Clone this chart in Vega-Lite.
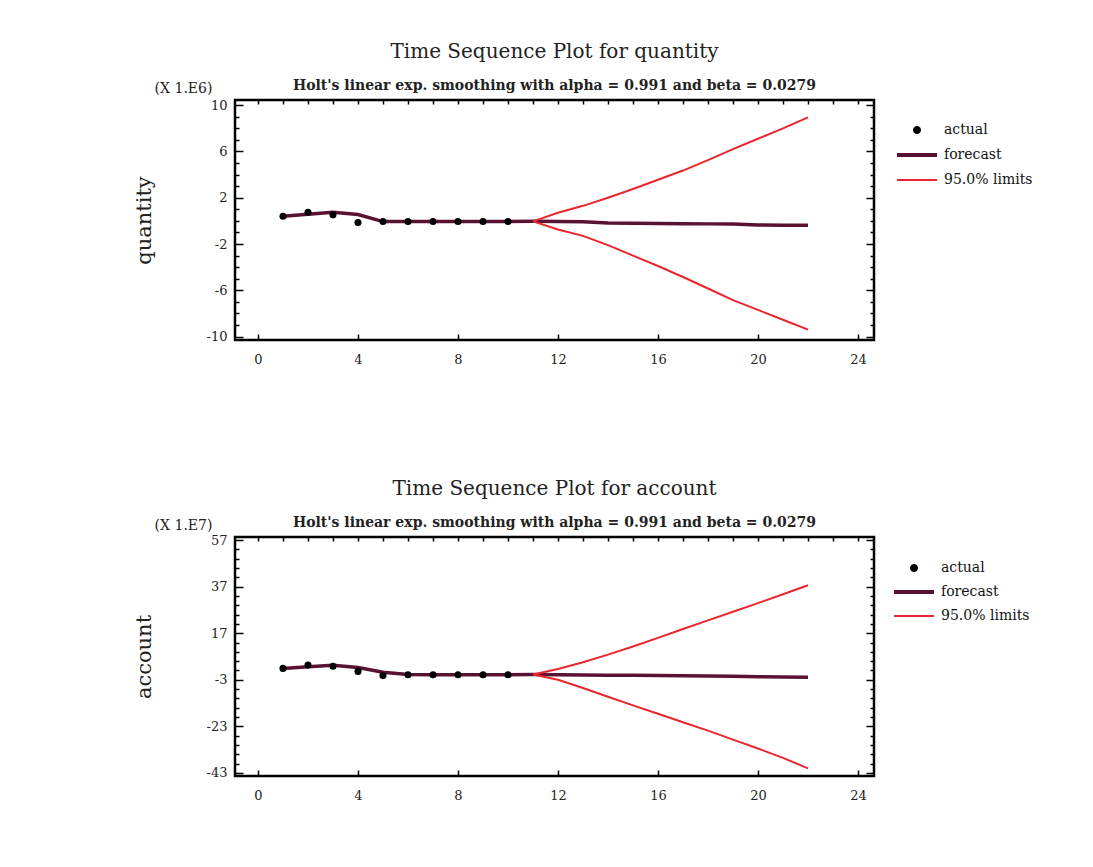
{
  "$schema": "https://vega.github.io/schema/vega-lite/v6.json",
  "background": "white",
  "padding": {"left": 131, "top": 40, "right": 10, "bottom": 10},
  "spacing": 109,
  "datasets": {
    "quantity": [
      {"t": 1, "v": 0.4, "s": "actual", "p": "a"},
      {"t": 2, "v": 0.75, "s": "actual", "p": "a"},
      {"t": 3, "v": 0.52, "s": "actual", "p": "a"},
      {"t": 4, "v": -0.15, "s": "actual", "p": "a"},
      {"t": 5, "v": -0.06, "s": "actual", "p": "a"},
      {"t": 6, "v": -0.06, "s": "actual", "p": "a"},
      {"t": 7, "v": -0.06, "s": "actual", "p": "a"},
      {"t": 8, "v": -0.06, "s": "actual", "p": "a"},
      {"t": 9, "v": -0.06, "s": "actual", "p": "a"},
      {"t": 10, "v": -0.06, "s": "actual", "p": "a"},
      {"t": 1, "v": 0.4, "s": "forecast", "p": "f"},
      {"t": 2, "v": 0.58, "s": "forecast", "p": "f"},
      {"t": 3, "v": 0.75, "s": "forecast", "p": "f"},
      {"t": 4, "v": 0.55, "s": "forecast", "p": "f"},
      {"t": 5, "v": -0.06, "s": "forecast", "p": "f"},
      {"t": 6, "v": -0.06, "s": "forecast", "p": "f"},
      {"t": 7, "v": -0.06, "s": "forecast", "p": "f"},
      {"t": 8, "v": -0.06, "s": "forecast", "p": "f"},
      {"t": 9, "v": -0.06, "s": "forecast", "p": "f"},
      {"t": 10, "v": -0.06, "s": "forecast", "p": "f"},
      {"t": 11, "v": -0.04, "s": "forecast", "p": "f"},
      {"t": 12, "v": -0.06, "s": "forecast", "p": "f"},
      {"t": 13, "v": -0.08, "s": "forecast", "p": "f"},
      {"t": 14, "v": -0.18, "s": "forecast", "p": "f"},
      {"t": 15, "v": -0.2, "s": "forecast", "p": "f"},
      {"t": 16, "v": -0.22, "s": "forecast", "p": "f"},
      {"t": 17, "v": -0.24, "s": "forecast", "p": "f"},
      {"t": 18, "v": -0.26, "s": "forecast", "p": "f"},
      {"t": 19, "v": -0.28, "s": "forecast", "p": "f"},
      {"t": 20, "v": -0.36, "s": "forecast", "p": "f"},
      {"t": 21, "v": -0.37, "s": "forecast", "p": "f"},
      {"t": 22, "v": -0.38, "s": "forecast", "p": "f"},
      {"t": 11, "v": -0.04, "s": "95.0% limits", "p": "upper"},
      {"t": 12, "v": 0.7, "s": "95.0% limits", "p": "upper"},
      {"t": 13, "v": 1.3, "s": "95.0% limits", "p": "upper"},
      {"t": 14, "v": 2.0, "s": "95.0% limits", "p": "upper"},
      {"t": 15, "v": 2.75, "s": "95.0% limits", "p": "upper"},
      {"t": 16, "v": 3.55, "s": "95.0% limits", "p": "upper"},
      {"t": 17, "v": 4.35, "s": "95.0% limits", "p": "upper"},
      {"t": 18, "v": 5.25, "s": "95.0% limits", "p": "upper"},
      {"t": 19, "v": 6.2, "s": "95.0% limits", "p": "upper"},
      {"t": 20, "v": 7.1, "s": "95.0% limits", "p": "upper"},
      {"t": 21, "v": 8.0, "s": "95.0% limits", "p": "upper"},
      {"t": 22, "v": 8.95, "s": "95.0% limits", "p": "upper"},
      {"t": 11, "v": -0.04, "s": "95.0% limits", "p": "lower"},
      {"t": 12, "v": -0.75, "s": "95.0% limits", "p": "lower"},
      {"t": 13, "v": -1.3, "s": "95.0% limits", "p": "lower"},
      {"t": 14, "v": -2.1, "s": "95.0% limits", "p": "lower"},
      {"t": 15, "v": -3.0, "s": "95.0% limits", "p": "lower"},
      {"t": 16, "v": -3.9, "s": "95.0% limits", "p": "lower"},
      {"t": 17, "v": -4.85, "s": "95.0% limits", "p": "lower"},
      {"t": 18, "v": -5.85, "s": "95.0% limits", "p": "lower"},
      {"t": 19, "v": -6.85, "s": "95.0% limits", "p": "lower"},
      {"t": 20, "v": -7.7, "s": "95.0% limits", "p": "lower"},
      {"t": 21, "v": -8.55, "s": "95.0% limits", "p": "lower"},
      {"t": 22, "v": -9.4, "s": "95.0% limits", "p": "lower"}
    ],
    "account": [
      {"t": 1, "v": 1.9, "s": "actual", "p": "a"},
      {"t": 2, "v": 3.3, "s": "actual", "p": "a"},
      {"t": 3, "v": 2.8, "s": "actual", "p": "a"},
      {"t": 4, "v": 0.6, "s": "actual", "p": "a"},
      {"t": 5, "v": -1.2, "s": "actual", "p": "a"},
      {"t": 6, "v": -0.8, "s": "actual", "p": "a"},
      {"t": 7, "v": -0.8, "s": "actual", "p": "a"},
      {"t": 8, "v": -0.8, "s": "actual", "p": "a"},
      {"t": 9, "v": -0.8, "s": "actual", "p": "a"},
      {"t": 10, "v": -0.8, "s": "actual", "p": "a"},
      {"t": 1, "v": 1.9, "s": "forecast", "p": "f"},
      {"t": 2, "v": 2.6, "s": "forecast", "p": "f"},
      {"t": 3, "v": 3.2, "s": "forecast", "p": "f"},
      {"t": 4, "v": 2.3, "s": "forecast", "p": "f"},
      {"t": 5, "v": 0.2, "s": "forecast", "p": "f"},
      {"t": 6, "v": -0.7, "s": "forecast", "p": "f"},
      {"t": 7, "v": -0.8, "s": "forecast", "p": "f"},
      {"t": 8, "v": -0.8, "s": "forecast", "p": "f"},
      {"t": 9, "v": -0.8, "s": "forecast", "p": "f"},
      {"t": 10, "v": -0.8, "s": "forecast", "p": "f"},
      {"t": 11, "v": -0.7, "s": "forecast", "p": "f"},
      {"t": 12, "v": -0.8, "s": "forecast", "p": "f"},
      {"t": 13, "v": -0.9, "s": "forecast", "p": "f"},
      {"t": 14, "v": -1.0, "s": "forecast", "p": "f"},
      {"t": 15, "v": -1.1, "s": "forecast", "p": "f"},
      {"t": 16, "v": -1.2, "s": "forecast", "p": "f"},
      {"t": 17, "v": -1.3, "s": "forecast", "p": "f"},
      {"t": 18, "v": -1.4, "s": "forecast", "p": "f"},
      {"t": 19, "v": -1.5, "s": "forecast", "p": "f"},
      {"t": 20, "v": -1.7, "s": "forecast", "p": "f"},
      {"t": 21, "v": -1.8, "s": "forecast", "p": "f"},
      {"t": 22, "v": -1.9, "s": "forecast", "p": "f"},
      {"t": 11, "v": -0.7, "s": "95.0% limits", "p": "upper"},
      {"t": 12, "v": 1.6, "s": "95.0% limits", "p": "upper"},
      {"t": 13, "v": 4.5, "s": "95.0% limits", "p": "upper"},
      {"t": 14, "v": 7.8, "s": "95.0% limits", "p": "upper"},
      {"t": 15, "v": 11.3, "s": "95.0% limits", "p": "upper"},
      {"t": 16, "v": 15.0, "s": "95.0% limits", "p": "upper"},
      {"t": 17, "v": 18.8, "s": "95.0% limits", "p": "upper"},
      {"t": 18, "v": 22.5, "s": "95.0% limits", "p": "upper"},
      {"t": 19, "v": 26.2, "s": "95.0% limits", "p": "upper"},
      {"t": 20, "v": 29.9, "s": "95.0% limits", "p": "upper"},
      {"t": 21, "v": 33.7, "s": "95.0% limits", "p": "upper"},
      {"t": 22, "v": 37.6, "s": "95.0% limits", "p": "upper"},
      {"t": 11, "v": -0.7, "s": "95.0% limits", "p": "lower"},
      {"t": 12, "v": -3.0, "s": "95.0% limits", "p": "lower"},
      {"t": 13, "v": -6.5, "s": "95.0% limits", "p": "lower"},
      {"t": 14, "v": -10.3, "s": "95.0% limits", "p": "lower"},
      {"t": 15, "v": -14.0, "s": "95.0% limits", "p": "lower"},
      {"t": 16, "v": -17.6, "s": "95.0% limits", "p": "lower"},
      {"t": 17, "v": -21.2, "s": "95.0% limits", "p": "lower"},
      {"t": 18, "v": -24.8, "s": "95.0% limits", "p": "lower"},
      {"t": 19, "v": -28.7, "s": "95.0% limits", "p": "lower"},
      {"t": 20, "v": -32.5, "s": "95.0% limits", "p": "lower"},
      {"t": 21, "v": -36.5, "s": "95.0% limits", "p": "lower"},
      {"t": 22, "v": -41.0, "s": "95.0% limits", "p": "lower"}
    ]
  },
  "vconcat": [
    {
      "width": 639,
      "height": 240,
      "data": {"name": "quantity"},
      "title": {"text": "Time Sequence Plot for quantity", "subtitle": "Holt's linear exp. smoothing with alpha = 0.991 and beta = 0.0279"},
      "layer": [
        {
          "transform": [{"filter": "datum.s !== 'actual'"}],
          "mark": {"type": "line", "clip": true},
          "encoding": {
            "x": {"field": "t", "type": "quantitative",
              "scale": {"domain": [-0.92, 24.64], "nice": false, "zero": false},
              "axis": {"orient": "top", "title": null, "labels": false, "values": [0,1,2,3,4,5,6,7,8,9,10,11,12,13,14,15,16,17,18,19,20,21,22,23,24]}},
            "y": {"field": "v", "type": "quantitative",
              "scale": {"domain": [-10.3, 10.45], "nice": false, "zero": false},
              "axis": {"orient": "right", "labels": false, "title": "(X 1.E6)", "titleAngle": 0, "titleX": -691, "titleY": -12, "titleAlign": "center", "titleBaseline": "middle", "titleFontSize": 14,
                "values": [-10,-9,-8,-7,-6,-5,-4,-3,-2,-1,0,1,2,3,4,5,6,7,8,9,10],
                "tickSize": -8,
                "tickDash": {"condition": {"test": "(datum.value + 10) % 4 === 0", "value": [1, 0]}, "value": [4, 40]}}},
            "color": {"field": "s", "type": "nominal",
              "scale": {"domain": ["actual", "forecast", "95.0% limits"], "range": ["#000000", "#5a1232", "#e8262e"]},
              "legend": {"title": null, "orient": "none", "legendX": 675, "legendY": 23, "rowPadding": 10,
                "encode": {"symbols": {"update": {
                  "shape": {"signal": "datum.value === 'actual' ? 'circle' : 'stroke'"},
                  "size": {"signal": "datum.value === 'actual' ? 50 : 1600"},
                  "fill": {"signal": "datum.value === 'actual' ? '#000000' : 'transparent'"},
                  "strokeWidth": {"signal": "datum.value === 'forecast' ? 4 : (datum.value === 'actual' ? 1 : 2)"}
                }}}}},
            "detail": {"field": "p", "type": "nominal"},
            "strokeWidth": {"field": "s", "type": "nominal", "scale": {"domain": ["forecast", "95.0% limits"], "range": [3.5, 2]}, "legend": null}
          }
        },
        {
          "transform": [{"filter": "datum.s === 'actual'"}],
          "mark": {"type": "point", "filled": true, "color": "#000000", "size": 50, "opacity": 1},
          "encoding": {
            "x": {"field": "t", "type": "quantitative",
              "axis": {"orient": "bottom", "title": null, "values": [0,4,8,12,16,20,24]}},
            "y": {"field": "v", "type": "quantitative",
              "axis": {"orient": "left", "title": "quantity", "titleX": -81, "titleFontSize": 21,
                "values": [-10,-9,-8,-7,-6,-5,-4,-3,-2,-1,0,1,2,3,4,5,6,7,8,9,10],
                "labelExpr": "(datum.value + 10) % 4 === 0 ? (datum.value < 0 ? '-' + abs(datum.value) : datum.label) : ''",
                "tickSize": -8,
                "tickDash": {"condition": {"test": "(datum.value + 10) % 4 === 0", "value": [1, 0]}, "value": [4, 40]}}}
          }
        }
      ],
      "resolve": {"axis": {"x": "independent", "y": "independent"}}
    },
    {
      "width": 639,
      "height": 239,
      "data": {"name": "account"},
      "title": {"text": "Time Sequence Plot for account", "subtitle": "Holt's linear exp. smoothing with alpha = 0.991 and beta = 0.0279"},
      "layer": [
        {
          "transform": [{"filter": "datum.s !== 'actual'"}],
          "mark": {"type": "line", "clip": true},
          "encoding": {
            "x": {"field": "t", "type": "quantitative",
              "scale": {"domain": [-0.92, 24.64], "nice": false, "zero": false},
              "axis": {"orient": "top", "title": null, "labels": false, "values": [0,1,2,3,4,5,6,7,8,9,10,11,12,13,14,15,16,17,18,19,20,21,22,23,24]}},
            "y": {"field": "v", "type": "quantitative",
              "scale": {"domain": [-44.3, 58.3], "nice": false, "zero": false},
              "axis": {"orient": "right", "labels": false, "title": "(X 1.E7)", "titleAngle": 0, "titleX": -691, "titleY": -12, "titleAlign": "center", "titleBaseline": "middle", "titleFontSize": 14,
                "values": [-43,-39,-35,-31,-27,-23,-19,-15,-11,-7,-3,1,5,9,13,17,21,25,29,33,37,41,45,49,53,57],
                "tickSize": -8,
                "tickDash": {"condition": {"test": "(datum.value + 43) % 20 === 0", "value": [1, 0]}, "value": [4, 40]}}},
            "color": {"field": "s", "type": "nominal",
              "scale": {"domain": ["actual", "forecast", "95.0% limits"], "range": ["#000000", "#5a1232", "#e8262e"]},
              "legend": {"title": null, "orient": "none", "legendX": 672, "legendY": 24, "rowPadding": 9,
                "encode": {"symbols": {"update": {
                  "shape": {"signal": "datum.value === 'actual' ? 'circle' : 'stroke'"},
                  "size": {"signal": "datum.value === 'actual' ? 50 : 1600"},
                  "fill": {"signal": "datum.value === 'actual' ? '#000000' : 'transparent'"},
                  "strokeWidth": {"signal": "datum.value === 'forecast' ? 4 : (datum.value === 'actual' ? 1 : 2)"}
                }}}}},
            "detail": {"field": "p", "type": "nominal"},
            "strokeWidth": {"field": "s", "type": "nominal", "scale": {"domain": ["forecast", "95.0% limits"], "range": [3.5, 2]}, "legend": null}
          }
        },
        {
          "transform": [{"filter": "datum.s === 'actual'"}],
          "mark": {"type": "point", "filled": true, "color": "#000000", "size": 50, "opacity": 1},
          "encoding": {
            "x": {"field": "t", "type": "quantitative",
              "axis": {"orient": "bottom", "title": null, "values": [0,4,8,12,16,20,24]}},
            "y": {"field": "v", "type": "quantitative",
              "axis": {"orient": "left", "title": "account", "titleX": -81, "titleFontSize": 21,
                "values": [-43,-39,-35,-31,-27,-23,-19,-15,-11,-7,-3,1,5,9,13,17,21,25,29,33,37,41,45,49,53,57],
                "labelExpr": "(datum.value + 43) % 20 === 0 ? (datum.value < 0 ? '-' + abs(datum.value) : datum.label) : ''",
                "tickSize": -8,
                "tickDash": {"condition": {"test": "(datum.value + 43) % 20 === 0", "value": [1, 0]}, "value": [4, 40]}}}
          }
        }
      ],
      "resolve": {"axis": {"x": "independent", "y": "independent"}}
    }
  ],
  "resolve": {"scale": {"color": "independent", "strokeWidth": "independent"}, "legend": {"color": "independent"}},
  "config": {
    "font": "DejaVu Serif",
    "view": {"stroke": "#000000", "strokeWidth": 2.5},
    "axis": {"domain": false, "grid": false, "ticks": true, "tickSize": -6, "tickWidth": 1.5, "tickColor": "#000000",
      "labelFont": "DejaVu Serif", "labelFontSize": 13, "labelColor": "#222222", "labelPadding": 16,
      "titleFont": "DejaVu Serif", "titleFontWeight": "normal", "titleColor": "#222222"},
    "axisBottom": {"labelPadding": 19},
    "axisTop": {"tickSize": -4},
    "legend": {"labelFont": "DejaVu Serif", "labelFontSize": 14, "labelColor": "#111111", "symbolSize": 1600, "padding": 0, "labelOffset": 20},
    "title": {"font": "DejaVu Serif", "fontSize": 20, "fontWeight": "normal", "color": "#222222", "anchor": "middle",
      "subtitleFont": "DejaVu Serif", "subtitleFontSize": 14, "subtitleFontWeight": "bold", "subtitleColor": "#222222", "subtitlePadding": 17, "offset": -12}
  }
}
